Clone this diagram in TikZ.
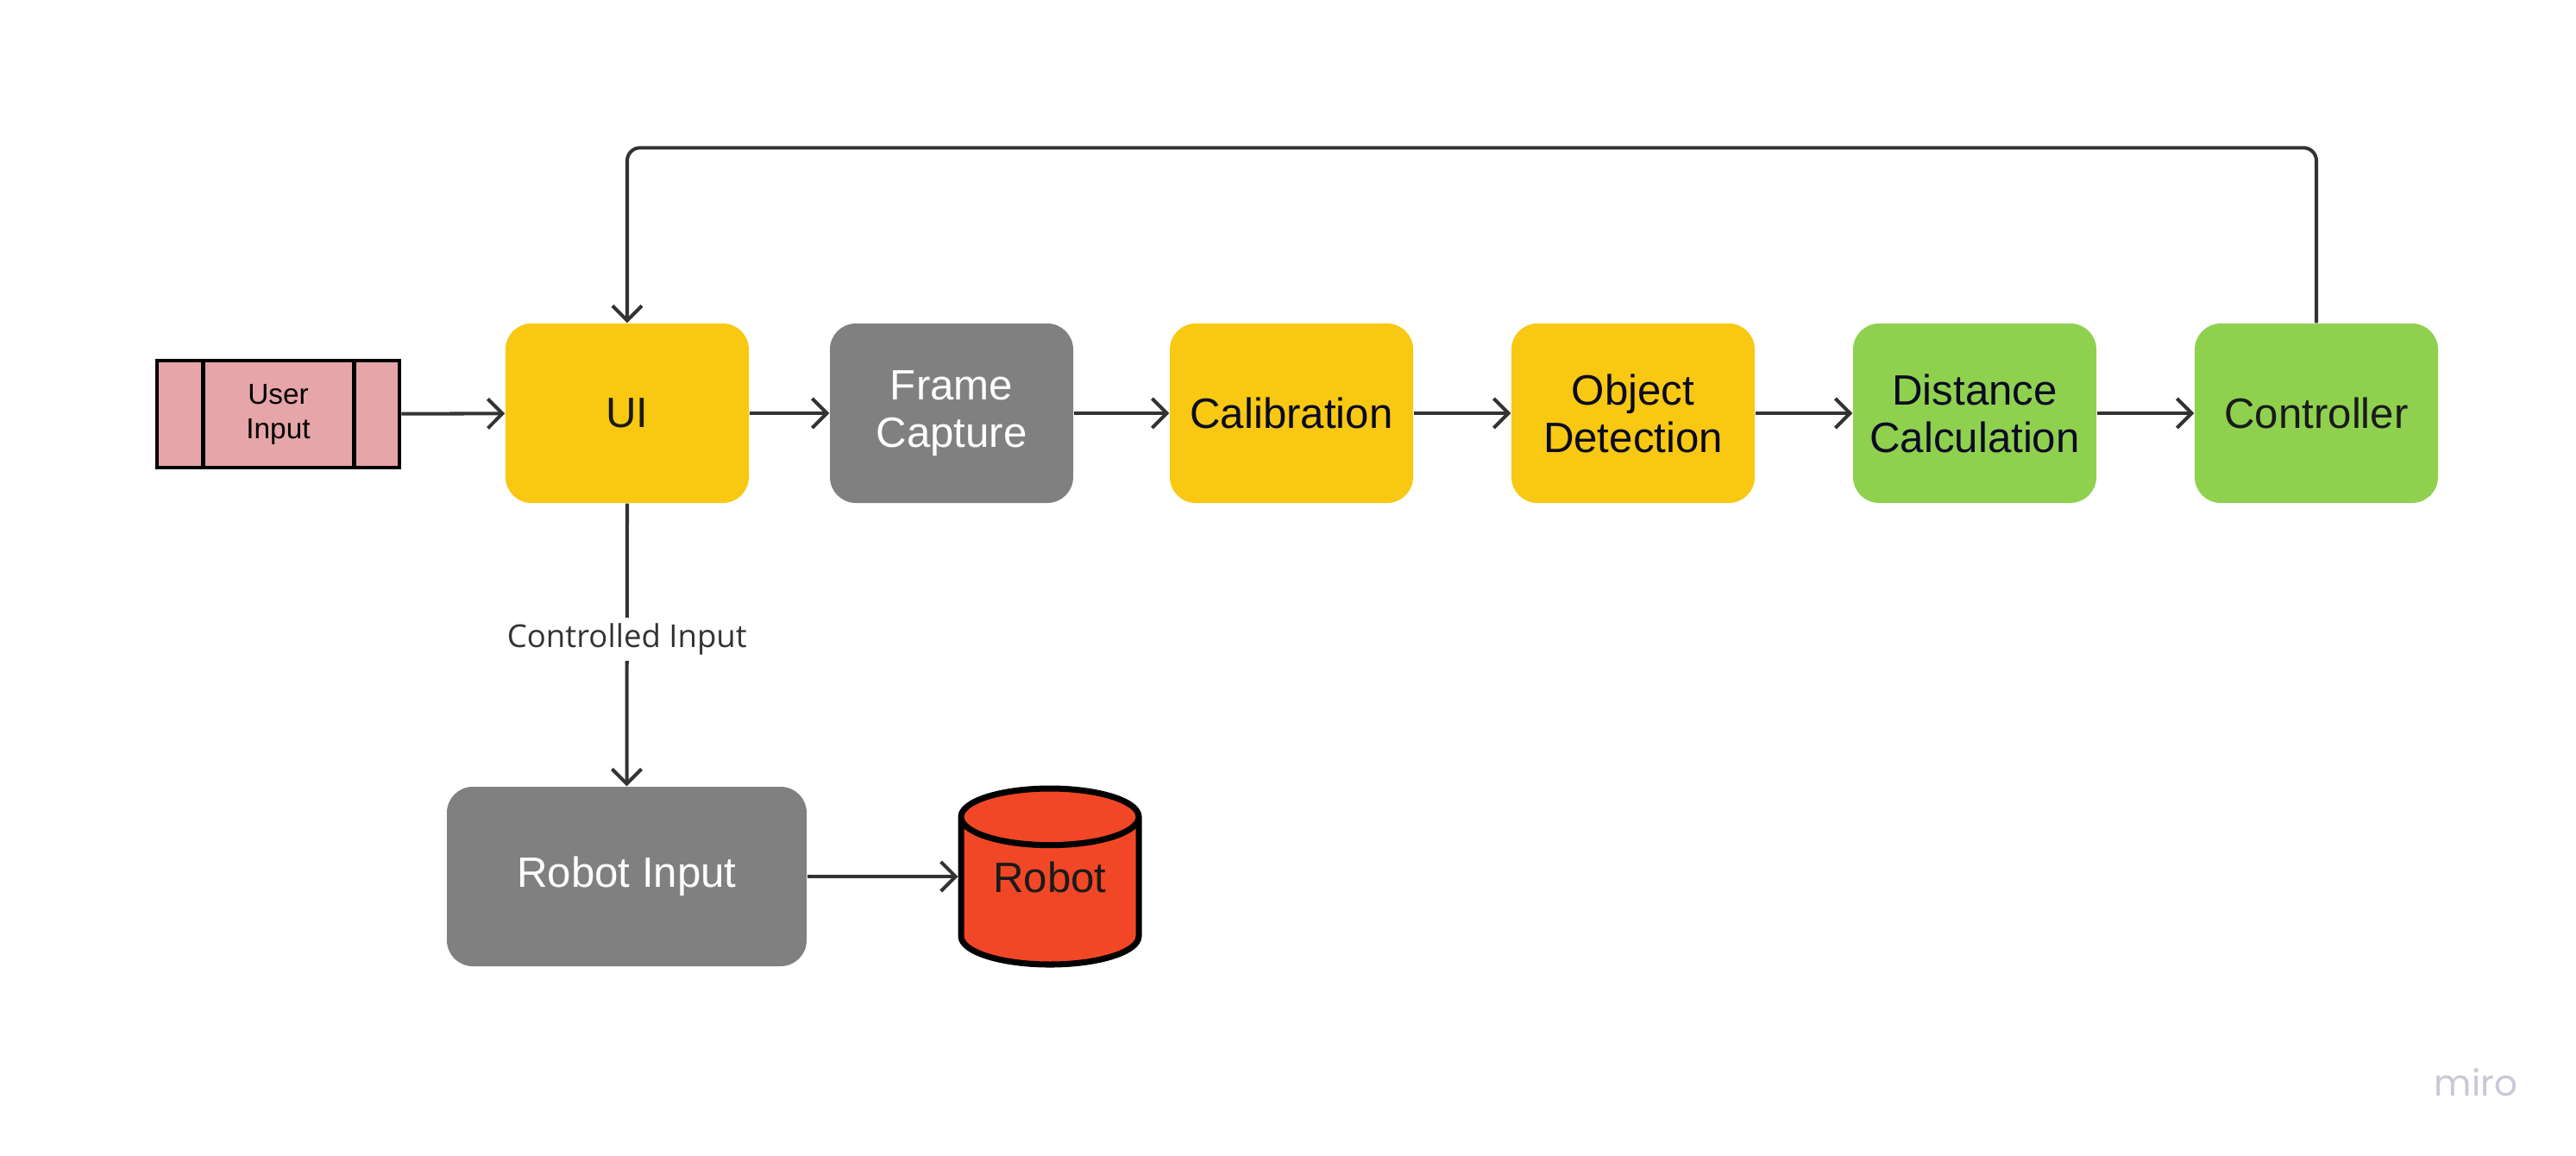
\documentclass[tikz,border=0pt]{standalone}
\usepackage{fontspec}
\setmainfont{Liberation Sans}
\newfontfamily\labelfont{Open Sans}
\newfontfamily\logofont{Poppins}
\usetikzlibrary{arrows.meta,shapes.geometric,calc}

\definecolor{lineGrey}{HTML}{333333}
\definecolor{boxYellow}{HTML}{F8C812}
\definecolor{boxGrey}{HTML}{808080}
\definecolor{boxGreen}{HTML}{8FD14F}
\definecolor{boxPink}{HTML}{E6A5A8}
\definecolor{robotRed}{HTML}{F24726}
\definecolor{logoGrey}{HTML}{C8C9D6}
\definecolor{textNavy}{HTML}{0A0A23}
\definecolor{textDark}{HTML}{1A1A1A}

\tikzset{
  box/.style={rectangle, rounded corners=0.3cm, minimum width=2.82cm, minimum height=2.08cm,
    inner sep=0pt, align=center, font=\fontsize{14}{15.7}\selectfont},
  arr/.style={-{Straight Barb[length=0.17cm,width=0.34cm]}, line width=1.15pt, draw=lineGrey},
}

\begin{document}
\begin{tikzpicture}

\useasboundingbox (0,0) rectangle (29.86,-13.39);

% input block
\node[draw=black, line width=1.3pt, fill=boxPink, minimum width=2.81cm, minimum height=1.24cm,
  align=center, font=\fontsize{9.5}{11.4}\selectfont] (user) at (3.225,-4.80) {User\\Input};
\draw[line width=1.3pt] ($(user.north west)+(0.56,0)$) -- ($(user.south west)+(0.56,0)$);
\draw[line width=1.3pt] ($(user.north east)+(-0.55,0)$) -- ($(user.south east)+(-0.55,0)$);

% processing chain
\node[box, fill=boxYellow, text=textDark] (ui) at (7.27,-4.79) {UI};
\node[box, fill=boxGrey, text=white] (frame) at (11.03,-4.79) {Frame\\Capture};
\node[box, fill=boxYellow, text=textNavy] (calib) at (14.97,-4.79) {Calibration};
\node[box, fill=boxYellow, text=textNavy] (detect) at (18.93,-4.79) {Object\\Detection};
\node[box, fill=boxGreen, text=textNavy] (dist) at (22.89,-4.79) {Distance\\Calculation};
\node[box, fill=boxGreen, text=textDark] (ctrl) at (26.85,-4.79) {Controller};

% robot side
\node[box, fill=boxGrey, text=white, minimum width=4.17cm] (robin) at (7.265,-10.16) {Robot Input};
\node[cylinder, shape border rotate=90, aspect=0.5, draw=black, line width=2pt, fill=robotRed,
  minimum width=2.06cm, minimum height=2.04cm, inner sep=0pt, text height=0.3cm, text depth=0.3cm,
  font=\fontsize{14}{16}\selectfont, text=textDark, anchor=shape center] (robot) at (12.17,-10.16) {Robot};

\draw[arr] (user) -- (ui);
\draw[arr] (ui) -- (frame);
\draw[arr] (frame) -- (calib);
\draw[arr] (calib) -- (detect);
\draw[arr] (detect) -- (dist);
\draw[arr] (dist) -- (ctrl);

\draw[arr, rounded corners=0.15cm] (ctrl.north) -- ++(0,2.03) -| (ui.north);

\draw[arr] (ui.south) -- node[pos=0.48, fill=white, text=lineGrey, inner sep=2pt,
  font=\labelfont\fontsize{10.4}{12}\selectfont] {Controlled Input} (robin.north);

\draw[arr] (robin.east) -- (robin.east -| robot.west);

\node[font=\logofont\fontsize{12}{14}\selectfont, text=logoGrey] (logo) at (28.70,-12.55) {miro};

\end{tikzpicture}
\end{document}
